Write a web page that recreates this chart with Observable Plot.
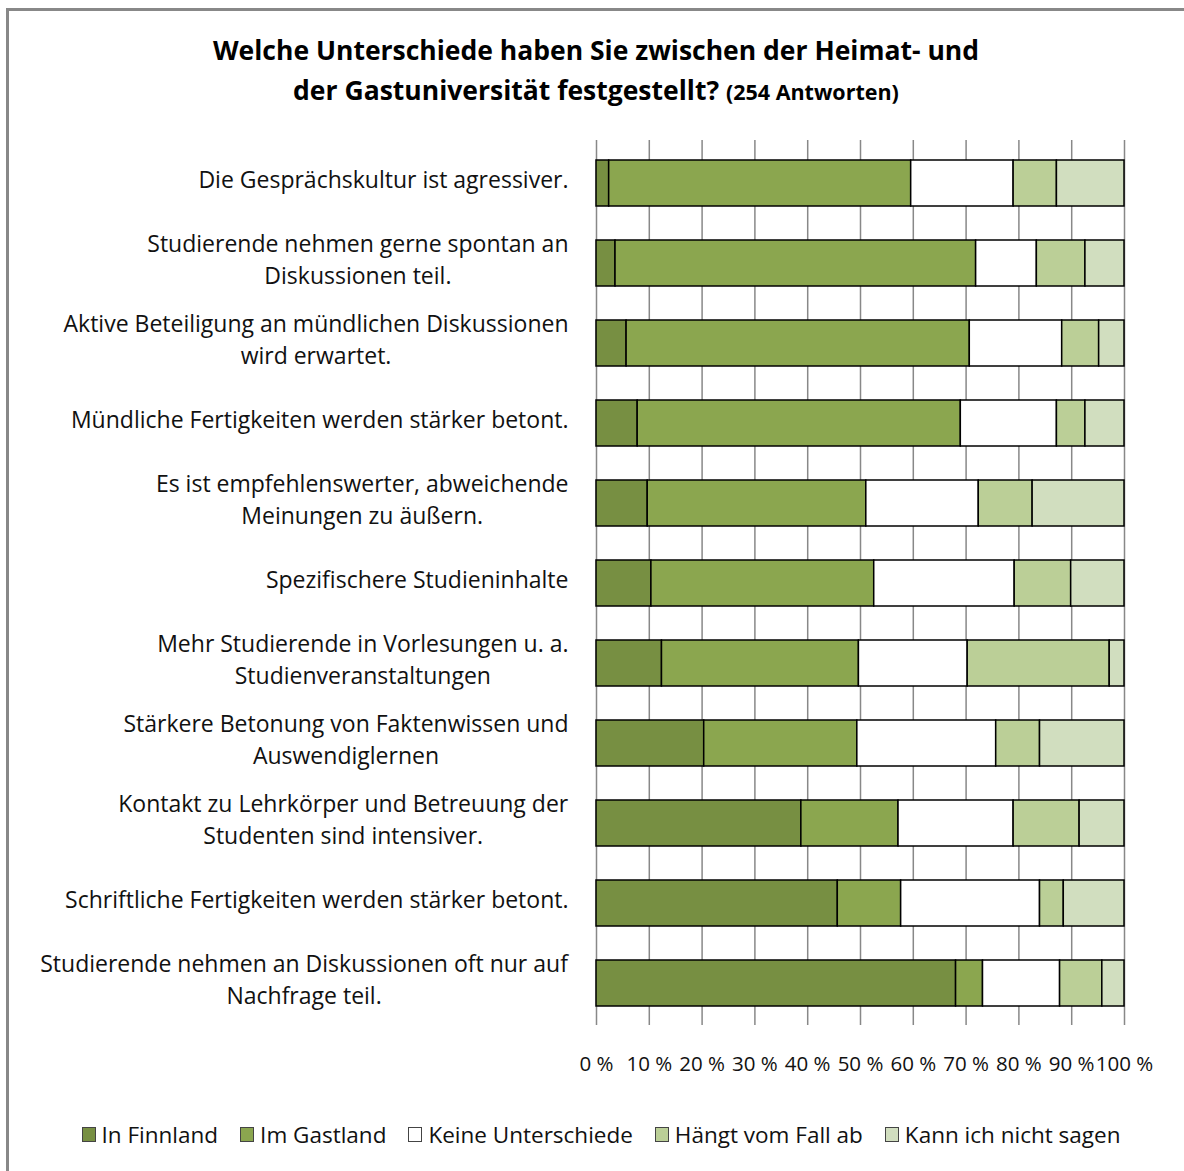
<!DOCTYPE html>
<html>
<head>
<meta charset="utf-8">
<script src="https://cdn.jsdelivr.net/npm/d3@7"></script>
<script src="https://cdn.jsdelivr.net/npm/@observablehq/plot@0.6"></script>
<style>
  html, body { margin: 0; padding: 0; background: #fff; }
  #wrap { position: relative; width: 1184px; height: 1171px; overflow: hidden; background: #fff; font-family: "Open Sans", Lato, sans-serif; }
  #frame { position: absolute; left: 6px; top: 8px; width: 1200px; height: 1200px; border-left: 3px solid #888; border-top: 3px solid #888; box-sizing: border-box; }
  #title { position: absolute; left: 96px; width: 1000px; top: 30px; text-align: center; font-weight: bold; font-size: 26.5px; line-height: 40px; color: #000; }
  #title .small { font-size: 21.5px; }
  #chart { position: absolute; left: 0; top: 120px; }
  #legend { position: absolute; left: 0; width: 1202px; top: 1119px; display: flex; justify-content: center; gap: 22px; font-size: 22.5px; color: #111; }
  #legend .item { display: flex; align-items: center; gap: 6px; }
  #legend .sw { width: 12px; height: 13px; border: 1px solid #444; }
</style>
</head>
<body>
<div id="wrap">
  <div id="frame"></div>
  <div id="title">Welche Unterschiede haben Sie zwischen der Heimat- und<br>der Gastuniversität festgestellt? <span class="small">(254 Antworten)</span></div>
  <div id="chart"></div>
  <div id="legend"></div>
</div>
<script>
const categories = [
  "Die Gesprächskultur ist agressiver.",
  "Studierende nehmen gerne spontan an\nDiskussionen teil.",
  "Aktive Beteiligung an mündlichen Diskussionen\nwird erwartet.",
  "Mündliche Fertigkeiten werden stärker betont.",
  "Es ist empfehlenswerter, abweichende\nMeinungen zu äußern.",
  "Spezifischere Studieninhalte",
  "Mehr Studierende in Vorlesungen u. a.\nStudienveranstaltungen",
  "Stärkere Betonung von Faktenwissen und\nAuswendiglernen",
  "Kontakt zu Lehrkörper und Betreuung der\nStudenten sind intensiver.",
  "Schriftliche Fertigkeiten werden stärker betont.",
  "Studierende nehmen an Diskussionen oft nur auf\nNachfrage teil."
];
const seriesNames = ["In Finnland", "Im Gastland", "Keine Unterschiede", "Hängt vom Fall ab", "Kann ich nicht sagen"];
const seriesColors = ["#778F42", "#8BA64F", "#FFFFFF", "#BBCF97", "#D1DEBF"];
const inFinnland   = [2.4, 3.6, 5.7, 7.8, 9.7, 10.4, 12.4, 20.4, 38.8, 45.7, 68.1];
const imGastland   = [57.2, 68.3, 65.0, 61.2, 41.4, 42.2, 37.3, 29.0, 18.4, 12.0, 5.1];
const keineUnters  = [19.4, 11.5, 17.5, 18.2, 21.3, 26.6, 20.6, 26.3, 21.8, 26.3, 14.6];
const haengtAb     = [8.2, 9.2, 7.0, 5.4, 10.2, 10.7, 26.9, 8.3, 12.5, 4.5, 8.0];
const kannNicht    = [12.8, 7.4, 4.8, 7.4, 17.4, 10.1, 2.8, 16.0, 8.5, 11.5, 4.2];
const xTicks = [0, 10, 20, 30, 40, 50, 60, 70, 80, 90, 100];
const xTickLabels = ["0 %", "10 %", "20 %", "30 %", "40 %", "50 %", "60 %", "70 %", "80 %", "90 %", "100 %"];

const seriesValues = [inFinnland, imGastland, keineUnters, haengtAb, kannNicht];
const rows = [];
categories.forEach((cat, i) => {
  seriesNames.forEach((s, j) => rows.push({cat, series: s, value: seriesValues[j][i]}));
});

const plot = Plot.plot({
  width: 1184,
  height: 980,
  marginLeft: 596,
  marginRight: 60,
  marginTop: 20,
  marginBottom: 75,
  style: {fontFamily: "'Open Sans', Lato, sans-serif", fontSize: "20px", color: "#000", background: "transparent", overflow: "visible"},
  x: {domain: [0, 100], label: null},
  y: {domain: categories, paddingInner: 0.43, paddingOuter: 0.215, axis: null},
  color: {domain: seriesNames, range: seriesColors},
  marks: [
    Plot.gridX(xTicks, {stroke: "#888", strokeOpacity: 1, strokeWidth: 1.5}),
    Plot.barX(rows, {y: "cat", x: "value", fill: "series", stroke: "#000", strokeWidth: 1.5}),
    Plot.axisX({ticks: xTicks, tickFormat: d => xTickLabels[xTicks.indexOf(d)], tickSize: 0, tickPadding: 31, fontSize: 20.5, fill: "#111", label: null}),
    Plot.text(categories, {y: d => d, text: d => d, frameAnchor: "left", textAnchor: "middle", lineAnchor: "middle", lineHeight: 1.4, fontSize: 23, fill: "#111", dy: -6})
  ]
});
document.getElementById("chart").appendChild(plot);

// right-align each label block (lines centered within the block) at 28px left of the frame
plot.querySelectorAll('g[aria-label="text"] text').forEach(t => {
  const w = t.getBBox().width;
  const tr = t.getAttribute("transform") || "";
  t.setAttribute("transform", tr + ` translate(${-(28 + w / 2)},0)`);
});

const legend = document.getElementById("legend");
seriesNames.forEach((s, j) => {
  const item = document.createElement("div");
  item.className = "item";
  const sw = document.createElement("div");
  sw.className = "sw";
  sw.style.background = seriesColors[j];
  const lab = document.createElement("span");
  lab.textContent = s;
  item.appendChild(sw);
  item.appendChild(lab);
  legend.appendChild(item);
});
</script>
</body>
</html>
